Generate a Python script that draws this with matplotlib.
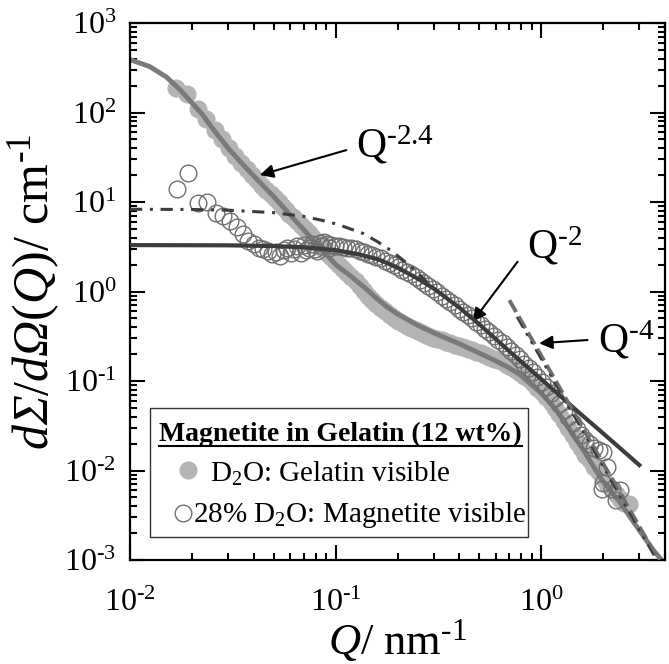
import numpy as np
import matplotlib
matplotlib.use('Agg')
import matplotlib.pyplot as plt
from matplotlib.ticker import LogLocator, FixedLocator, FuncFormatter, NullFormatter
from matplotlib.patches import Rectangle

plt.rcParams['font.family'] = 'Liberation Serif'
plt.rcParams['mathtext.fontset'] = 'custom'
plt.rcParams['mathtext.rm'] = 'Liberation Serif'
plt.rcParams['mathtext.it'] = 'Liberation Serif:italic'
plt.rcParams['mathtext.bf'] = 'Liberation Serif:bold'
plt.rcParams['mathtext.sf'] = 'Liberation Serif:italic'
plt.rcParams['axes.unicode_minus'] = False

HY = '\u2010'  # short hyphen used in the exponents

# D2O: gelatin visible (filled grey circles)
d2o_q = [0.0168, 0.0190, 0.0213, 0.0235, 0.0258, 0.028, 0.0303, 0.0325, 0.0348, 0.037,
         0.0393, 0.0415, 0.0438, 0.046, 0.0483, 0.0505, 0.0528, 0.055, 0.0573, 0.0595,
         0.062, 0.065, 0.068, 0.071, 0.074, 0.077, 0.080, 0.083, 0.087, 0.091,
         0.095, 0.099, 0.104, 0.109, 0.114, 0.119, 0.125, 0.131, 0.137, 0.144,
         0.151, 0.158, 0.166, 0.174, 0.183, 0.192, 0.201, 0.211, 0.222, 0.233,
         0.245, 0.257, 0.27, 0.283, 0.297, 0.312, 0.328, 0.344, 0.361, 0.379,
         0.398, 0.418, 0.439, 0.461, 0.484, 0.508, 0.534, 0.56, 0.588, 0.618,
         0.649, 0.681, 0.715, 0.751, 0.789, 0.828, 0.87, 0.913, 0.959, 1.007,
         1.057, 1.11, 1.166, 1.224, 1.285, 1.35, 1.42, 1.49, 1.56, 1.64,
         1.72, 1.81, 1.9, 2.0, 2.1, 2.2, 2.3, 2.42, 2.54, 2.67]
d2o_i = [190, 160, 110, 84, 64, 50, 40, 33, 27.5, 23.5,
         20, 17.5, 15.2, 13.6, 12.2, 11.0, 9.9, 9.0, 8.2, 7.4,
         6.8, 6.1, 5.5, 5.0, 4.5, 4.1, 3.7, 3.35, 3.0, 2.7,
         2.45, 2.2, 1.98, 1.78, 1.6, 1.45, 1.3, 1.15, 1.02, 0.9,
         0.8, 0.72, 0.65, 0.6, 0.55, 0.51, 0.47, 0.44, 0.415, 0.39,
         0.37, 0.35, 0.335, 0.32, 0.305, 0.295, 0.285, 0.275, 0.265, 0.255,
         0.245, 0.237, 0.228, 0.22, 0.212, 0.204, 0.195, 0.187, 0.178, 0.17,
         0.161, 0.152, 0.143, 0.134, 0.124, 0.114, 0.104, 0.094, 0.084, 0.075,
         0.066, 0.058, 0.05, 0.043, 0.036, 0.03, 0.025, 0.021, 0.018, 0.015,
         0.013, 0.011, 0.0095, 0.0082, 0.007, 0.0062, 0.0055, 0.0048, 0.0043, 0.0042]

# 28% D2O: magnetite visible (open circles)
h2o_q = [0.0169, 0.0192, 0.0215, 0.0238, 0.0261, 0.0284, 0.0307, 0.033, 0.0353, 0.0376,
         0.0399, 0.0422, 0.0445, 0.0468, 0.0491, 0.0514, 0.0537, 0.056, 0.0583, 0.0606,
         0.0629, 0.0652, 0.0675, 0.0698, 0.0721, 0.0744, 0.0767, 0.079, 0.0813, 0.0836,
         0.0859, 0.0882, 0.0905, 0.0928, 0.095, 0.099, 0.104, 0.109, 0.114, 0.119,
         0.125, 0.131, 0.137, 0.144, 0.151, 0.158, 0.166, 0.174, 0.183, 0.192,
         0.201, 0.211, 0.222, 0.233, 0.245, 0.257, 0.27, 0.283, 0.297, 0.312,
         0.328, 0.344, 0.361, 0.379, 0.398, 0.418, 0.439, 0.461, 0.484, 0.508,
         0.534, 0.56, 0.588, 0.618, 0.649, 0.681, 0.715, 0.751, 0.789, 0.828,
         0.87, 0.913, 0.959, 1.007, 1.057, 1.11, 1.166, 1.224, 1.285, 1.35,
         1.42, 1.49, 1.56, 1.64, 1.72, 1.81, 1.9, 2.0, 2.1, 2.0,
         2.2, 1.97, 2.3, 2.42]
h2o_i = [13.9, 21.2, 9.8, 10.0, 7.6, 6.9, 6.1, 5.2, 4.4, 3.7,
         3.4, 3.05, 3.0, 2.85, 2.6, 2.75, 2.5, 2.9, 3.1, 2.7,
         3.0, 3.2, 2.7, 3.3, 2.9, 3.1, 3.4, 3.0, 2.8, 3.5,
         3.2, 3.6, 3.4, 3.1, 3.3, 3.25, 3.2, 3.15, 3.1, 3.05,
         2.95, 2.85, 2.75, 2.65, 2.55, 2.45, 2.35, 2.22, 2.1, 1.98,
         1.87, 1.76, 1.65, 1.55, 1.45, 1.35, 1.25, 1.15, 1.06, 0.98,
         0.9, 0.83, 0.76, 0.7, 0.64, 0.59, 0.54, 0.5, 0.46, 0.42,
         0.385, 0.35, 0.32, 0.29, 0.265, 0.24, 0.215, 0.195, 0.175, 0.155,
         0.14, 0.125, 0.11, 0.097, 0.085, 0.074, 0.064, 0.055, 0.047, 0.04,
         0.034, 0.029, 0.025, 0.022, 0.02, 0.018, 0.017, 0.016, 0.011, 0.0073,
         0.0062, 0.0062, 0.0047, 0.006]

# fit of D2O data (grey line)
fit1_q = [0.010, 0.0125, 0.015, 0.0175, 0.020, 0.0225, 0.025, 0.030, 0.035, 0.040,
          0.050, 0.060, 0.070, 0.080, 0.090, 0.10, 0.12, 0.14, 0.16, 0.18,
          0.20, 0.25, 0.30, 0.40, 0.50, 0.60, 0.70, 0.80, 0.90, 1.0,
          1.2, 1.4, 1.6, 1.8, 2.0, 2.4, 2.9, 3.5, 4.0]
fit1_i = [390, 325, 250, 180, 128, 95, 68, 40, 27, 19.5,
          11.5, 7.2, 4.9, 3.5, 2.6, 2.0, 1.45, 1.08, 0.82, 0.66,
          0.56, 0.42, 0.345, 0.26, 0.205, 0.168, 0.14, 0.115, 0.09, 0.073,
          0.046, 0.027, 0.017, 0.011, 0.0075, 0.0045, 0.0024, 0.0013, 0.0009]

# fit of 28% D2O data (dark line)
fit2_q = [0.01, 0.03, 0.05, 0.07, 0.1, 0.13, 0.16, 0.2, 0.25, 0.3,
          0.4, 0.5, 0.7, 1.0, 1.5, 2.0, 2.5, 3.0]
fit2_i = [3.30, 3.28, 3.22, 3.12, 2.9, 2.6, 2.3, 1.85, 1.4, 1.08,
          0.66, 0.43, 0.215, 0.105, 0.046, 0.026, 0.0166, 0.0115]

# dash-dot model
dd_q = [0.01, 0.02, 0.03, 0.05, 0.07, 0.093, 0.11, 0.136, 0.16, 0.184, 0.21, 0.245, 0.28]
dd_i = [8.3, 8.25, 8.1, 7.6, 6.9, 6.0, 5.3, 4.45, 3.6, 2.91, 2.3, 1.7, 1.25]

# Q^-4 guides
p4a_q = [0.70, 4.0]
p4a_i = [0.80, 0.00075]
p4b_q = [0.76, 3.7]
p4b_i = [0.52, 0.00093]

x_major = [1e-2, 1e-1, 1e0]
y_major = [1e-3, 1e-2, 1e-1, 1e0, 1e1, 1e2, 1e3]

fig = plt.figure(figsize=(6.69, 6.64), dpi=100)
ax = fig.add_axes([130 / 669, 104 / 664, 535 / 669, 537 / 664])

ax.plot(d2o_q, d2o_i, 'o', ms=12, color='#b4b4b4', mec='#b4b4b4', zorder=1)
ax.plot(fit1_q, fit1_i, '-', color='#7a7a7a', lw=3.5, zorder=2)
ax.plot(h2o_q, h2o_i, 'o', ms=12, mfc='none', mec='#707070', mew=1.0, zorder=3)
ax.plot(fit2_q, fit2_i, '-', color='#3c3c3c', lw=3.0, zorder=4)
ax.plot(dd_q, dd_i, color='#3c3c3c', lw=2.2, dashes=(4, 2.5, 1, 2.5), zorder=4)
ax.plot(p4a_q, p4a_i, color='#6e6e6e', lw=2.8, dashes=(3.5, 1.3), zorder=4)
ax.plot(p4b_q, p4b_i, color='#3c3c3c', lw=1.5, dashes=(6, 3, 1.5, 3, 1.5, 3), zorder=4)

ax.set_xscale('log')
ax.set_yscale('log')
ax.set_xlim(0.01, 4.0)
ax.set_ylim(1e-3, 1e3)


def expfmt(v, pos):
    e = int(round(np.log10(v)))
    s = str(e) if e >= 0 else HY + str(-e)
    return '10$^{' + s + '}$'


fmt = FuncFormatter(expfmt)
ax.xaxis.set_major_locator(FixedLocator(x_major))
ax.yaxis.set_major_locator(FixedLocator(y_major))
ax.xaxis.set_major_formatter(fmt)
ax.yaxis.set_major_formatter(fmt)
ax.xaxis.set_minor_locator(LogLocator(base=10, subs=np.arange(2, 10), numticks=20))
ax.yaxis.set_minor_locator(LogLocator(base=10, subs=np.arange(2, 10), numticks=20))
ax.xaxis.set_minor_formatter(NullFormatter())
ax.yaxis.set_minor_formatter(NullFormatter())
ax.tick_params(which='both', direction='in', top=True, right=True, width=1.5, labelsize=23)
ax.tick_params(which='major', length=11, pad=10)
ax.tick_params(axis='x', which='major', pad=21)
ax.tick_params(which='minor', length=5)
for s in ax.spines.values():
    s.set_linewidth(1.6)

ax.set_xlabel('$Q$/ nm$^{' + HY + '1}$', fontsize=32)
ax.set_ylabel(r'$d\mathsf{\Sigma}/d\mathsf{\Omega}(Q)$/ cm$^{' + HY + '1}$', fontsize=36)
ax.xaxis.set_label_coords(0.5, -0.106)
ax.yaxis.set_label_coords(-0.128, 0.5)

# power-law annotations
arr = dict(arrowstyle='-|>', color='black', lw=1.5, mutation_scale=20, shrinkA=0, shrinkB=0)
ax.annotate('', xy=(0.0428, 20), xytext=(0.1127, 38), arrowprops=arr)
ax.annotate('', xy=(0.464, 0.46), xytext=(0.767, 2.15), arrowprops=arr)
ax.annotate('', xy=(0.977, 0.264), xytext=(1.68, 0.287), arrowprops=arr)
ax.text(0.422, 0.749, r'$\mathrm{Q}^{' + HY + '2.4}$', transform=ax.transAxes, fontsize=30)
ax.text(0.742, 0.562, r'$\mathrm{Q}^{' + HY + '2}$', transform=ax.transAxes, fontsize=30)
ax.text(0.875, 0.387, r'$\mathrm{Q}^{' + HY + '4}$', transform=ax.transAxes, fontsize=30)

# legend box
ax.add_patch(Rectangle((0.0374, 0.0428), 0.7066, 0.2402, transform=ax.transAxes,
                       facecolor='white', edgecolor='#333333', lw=1.0, zorder=5))
title = ax.text(0.0542, 0.2216, 'Magnetite in Gelatin (12 wt%)', transform=ax.transAxes,
                fontsize=20, fontweight='bold', zorder=6)
fig.canvas.draw()
bb = title.get_window_extent().transformed(ax.transAxes.inverted())
ax.plot([bb.x0, bb.x1], [0.213, 0.213], color='black', lw=1.5, transform=ax.transAxes, zorder=6)
ax.plot([0.108], [0.1676], 'o', ms=12, color='#b4b4b4', transform=ax.transAxes, zorder=6)
ax.plot([0.099], [0.0875], 'o', ms=12, mfc='white', mec='#707070', transform=ax.transAxes, zorder=6)
ax.text(0.1495, 0.1458, r'D$_2$O: Gelatin visible', transform=ax.transAxes, fontsize=21, zorder=6)
ax.text(0.1178, 0.0713, r'28% D$_2$O: Magnetite visible', transform=ax.transAxes, fontsize=21, zorder=6)

fig.savefig('out.png', dpi=100)
